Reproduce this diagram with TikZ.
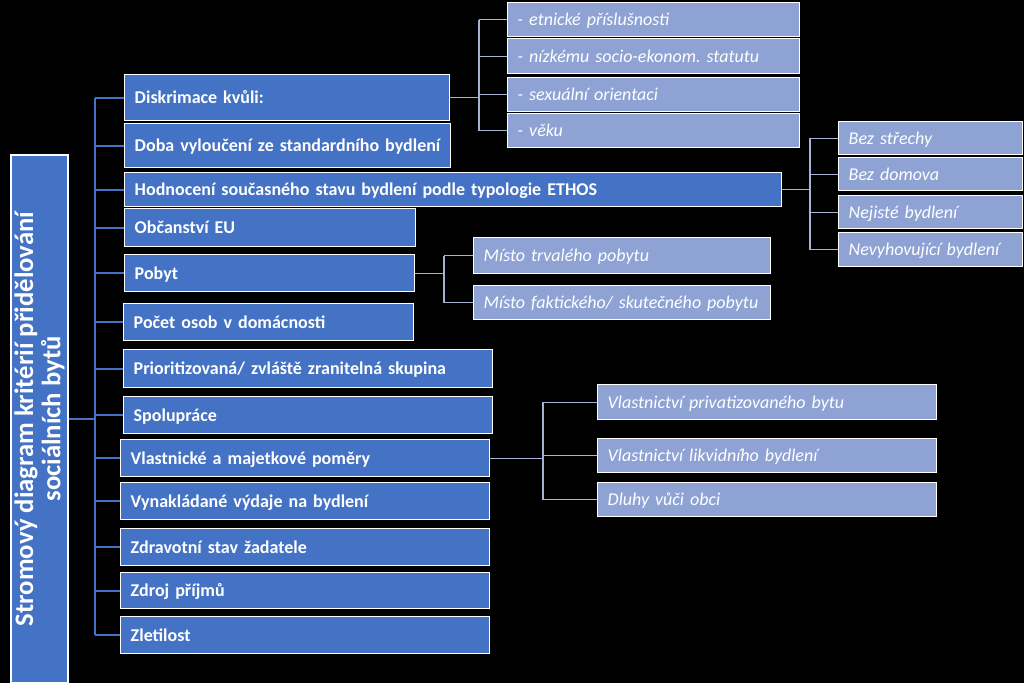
\documentclass[tikz,border=0pt]{standalone}
\usepackage{fontspec}
\setmainfont{Carlito}
\usetikzlibrary{positioning}
\frenchspacing

\definecolor{lvlblue}{RGB}{68,114,196}
\definecolor{subblue}{RGB}{142,162,212}
\definecolor{twiggray}{RGB}{165,178,212}

\begin{document}
\begin{tikzpicture}[
    x=0.75pt, y=-0.75pt,
    boxsize/.style 2 args={text width=#1*0.75pt, minimum height=#2*0.75pt},
    crit/.style={rectangle, draw=white, line width=1.1pt, fill=lvlblue, text=white,
        anchor=north west, inner xsep=0pt, inner ysep=0pt,
        text height=8.7pt, text depth=0pt,
        font=\fontsize{13.5}{16}\selectfont\bfseries,
        execute at begin node={\leftskip=7.5pt\rightskip=0pt plus 1fil\parindent=0pt}},
    subcrit/.style={crit, fill=subblue, font=\fontsize{13.5}{16}\selectfont\itshape},
    root/.style={rectangle, draw=white, line width=1.1pt, fill=lvlblue, text=white,
        rotate=90, align=center, inner sep=0pt,
        minimum width=396pt, minimum height=42.75pt,
        font=\fontsize{20}{20.5}\selectfont\bfseries},
    trunk/.style={draw=lvlblue, line width=1.3pt},
    twig/.style={draw=twiggray, line width=1pt}
]

% Background
\useasboundingbox (0,0) rectangle (1024,683);
\fill[black] (0,0) rectangle (1024,683);

% Root
\node[root] (root) at (39.5,419) {Stromový diagram kritérií přidělování\\sociálních bytů};

% Criteria
\node[crit, boxsize={325}{46}] (disk) at (124,74) {Diskrimace kvůli:};
\node[crit, boxsize={326}{44}] (doba) at (124,123) {Doba vyloučení ze standardního bydlení};
\node[crit, boxsize={657}{34}] (ethos) at (124,172) {Hodnocení současného stavu bydlení podle typologie ETHOS};
\node[crit, boxsize={291}{38}] (obc) at (124,208) {Občanství EU};
\node[crit, boxsize={290}{37}] (pobyt) at (124,254) {Pobyt};
\node[crit, boxsize={290}{37}] (pocet) at (123,303) {Počet osob v domácnosti};
\node[crit, boxsize={369}{38}] (prior) at (123,349) {Prioritizovaná/ zvláště zranitelná skupina};
\node[crit, boxsize={369}{37}] (spol) at (123,396) {Spolupráce};
\node[crit, boxsize={369}{37}] (vlast) at (120,439) {Vlastnické a majetkové poměry};
\node[crit, boxsize={369}{37}] (vyn) at (120,482) {Vynakládané výdaje na bydlení};
\node[crit, boxsize={369}{37}] (zdrav) at (120,528) {Zdravotní stav žadatele};
\node[crit, boxsize={369}{36}] (zdroj) at (120,572) {Zdroj příjmů};
\node[crit, boxsize={369}{37}] (zlet) at (120,616) {Zletilost};

% Sub-criteria: discrimination
\node[subcrit, boxsize={292}{34}] (etn) at (507,2) {- etnické příslušnosti};
\node[subcrit, boxsize={292}{35}] (nizk) at (507,38) {- nízkému socio-ekonom. statutu};
\node[subcrit, boxsize={292}{34}] (sex) at (507,77) {- sexuální orientaci};
\node[subcrit, boxsize={292}{34}] (veku) at (507,113) {- věku};

% Sub-criteria: ETHOS
\node[subcrit, boxsize={184}{33}] (strech) at (838,121) {Bez střechy};
\node[subcrit, boxsize={184}{33}] (domov) at (838,157) {Bez domova};
\node[subcrit, boxsize={184}{33}] (nejist) at (838,195) {Nejisté bydlení};
\node[subcrit, boxsize={184}{34}] (nevyh) at (838,232) {Nevyhovující bydlení};

% Sub-criteria: residence
\node[subcrit, boxsize={297}{36}] (trval) at (473,237) {Místo trvalého pobytu};
\node[subcrit, boxsize={297}{34}] (fakt) at (473,285) {Místo faktického/ skutečného pobytu};

% Sub-criteria: property
\node[subcrit, boxsize={339}{35}] (priv) at (597,384) {Vlastnictví privatizovaného bytu};
\node[subcrit, boxsize={339}{34}] (likv) at (597,438) {Vlastnictví likvidního bydlení};
\node[subcrit, boxsize={339}{34}] (dluh) at (597,482) {Dluhy vůči obci};

% Connectors
\coordinate (tr) at (95,419);
\draw[trunk] (root.south) -- (tr);
\draw[trunk] (tr |- disk.west) -- (tr |- zlet.west);
\foreach \n in {disk,doba,ethos,obc,pobyt,pocet,prior,spol,vlast,vyn,zdrav,zdroj,zlet}
    \draw[trunk] (tr |- \n.west) -- (\n.west);

\coordinate (db) at (479,0);
\draw[twig] (disk.east) -- (db |- disk.east);
\draw[twig] (db |- etn.west) -- (db |- veku.west);
\foreach \n in {etn,nizk,sex,veku}
    \draw[twig] (db |- \n.west) -- (\n.west);

\coordinate (eb) at (810,0);
\draw[twig] (ethos.east) -- (eb |- ethos.east);
\draw[twig] (eb |- strech.west) -- (eb |- nevyh.west);
\foreach \n in {strech,domov,nejist,nevyh}
    \draw[twig] (eb |- \n.west) -- (\n.west);

\coordinate (pb) at (444,0);
\draw[twig] (pobyt.east) -- (pb |- pobyt.east);
\draw[twig] (pb |- trval.west) -- (pb |- fakt.west);
\foreach \n in {trval,fakt}
    \draw[twig] (pb |- \n.west) -- (\n.west);

\coordinate (vb) at (543,0);
\draw[twig] (vlast.east) -- (vb |- vlast.east);
\draw[twig] (vb |- priv.west) -- (vb |- dluh.west);
\foreach \n in {priv,likv,dluh}
    \draw[twig] (vb |- \n.west) -- (\n.west);

\end{tikzpicture}
\end{document}
